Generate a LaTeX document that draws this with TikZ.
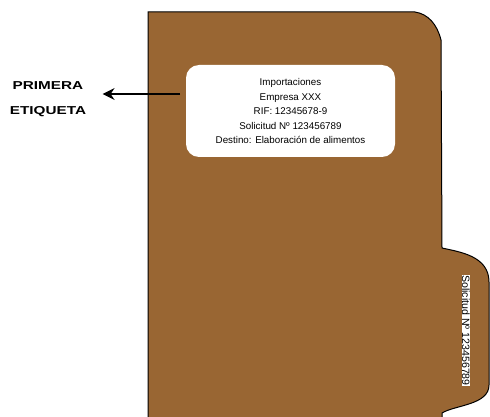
\documentclass[tikz,border=0pt]{standalone}
\usepackage{fontspec}
\setmainfont{Liberation Sans}
\usetikzlibrary{arrows.meta}
\definecolor{carpeta}{RGB}{153,102,51}

\begin{document}
\begin{tikzpicture}[x=1pt,y=-1pt,
    etiqueta/.style ={fill=white, rounded corners=13pt, minimum width=209pt,
       minimum height=92pt, align=center, font=\fontsize{9.8}{14.5}\selectfont},
    pestana/.style ={fill=white, rotate=-90, inner sep=0.6pt,
       font=\fontsize{10.6}{12}\selectfont},
    titulo/.style ={align=center, font=\bfseries\fontsize{11.5}{25.6}\selectfont}]
   \useasboundingbox (0,0) rectangle (490,417);

   % carpeta
   \draw[fill=carpeta,line width=1pt] (148,420) -- (148,12) -- (415,12)
      .. controls (428,14) and (437,24) .. (441,40) -- (442,248)
      .. controls (460,252) and (489,256) .. (489,282) -- (489,385)
      .. controls (489,405) and (455,405) .. (442,413) -- (442,420);

   \node[etiqueta] (E) at (290.5,111) {Importaciones\\Empresa XXX\\RIF: 12345678-9\\Solicitud Nº 123456789\\Destino: Elaboración de alimentos};
   \node[pestana] (P) at (466,330.5) {Solicitud Nº 123456789};
   \node[titulo] (T) at (48,99) {\scalebox{1.33}[1]{PRIMERA}\\\scalebox{1.33}[1]{ETIQUETA}};

   \coordinate (A) at (180,94);
   \draw[line width=1.3pt,-{Stealth[length=12pt,width=12pt,inset=4pt]}] (A) to ([xshift=13pt]T.east |- A);
 \end{tikzpicture}
\end{document}
